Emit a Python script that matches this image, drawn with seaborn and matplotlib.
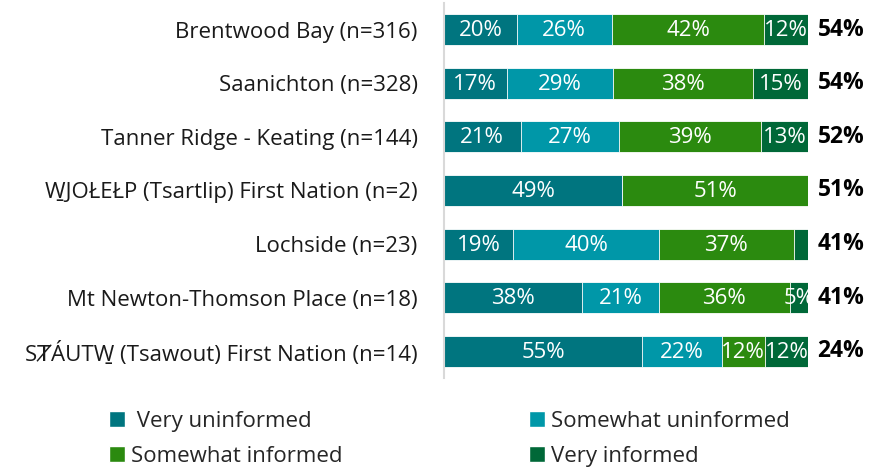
import numpy as np
import pandas as pd
import matplotlib
matplotlib.use("Agg")
import matplotlib.pyplot as plt
from matplotlib.patches import Patch
import seaborn as sns

# data
categories = [
    "Brentwood Bay (n=316)",
    "Saanichton (n=328)",
    "Tanner Ridge - Keating (n=144)",
    "W\u0331JOŁEŁP (Tsartlip) First Nation (n=2)",
    "Lochside (n=23)",
    "Mt Newton-Thomson Place (n=18)",
    "S\u023eÁUTW\u0331 (Tsawout) First Nation (n=14)",
]
very_uninformed = [20, 17, 21, 49, 19, 38, 55]
somewhat_uninformed = [26, 29, 27, 0, 40, 21, 22]
somewhat_informed = [42, 38, 39, 51, 37, 36, 12]
very_informed = [12, 15, 13, 0, 4, 5, 12]
totals = [54, 54, 52, 51, 41, 41, 24]

series_names = ["Very uninformed", "Somewhat uninformed", "Somewhat informed", "Very informed"]
colors = ["#00757f", "#0097a8", "#2b8a0f", "#006838"]

sns.set_theme(style="white")
plt.rcParams["font.family"] = ["Open Sans", "DejaVu Sans"]

df = pd.DataFrame({
    "category": categories,
    "Very uninformed": very_uninformed,
    "Somewhat uninformed": somewhat_uninformed,
    "Somewhat informed": somewhat_informed,
    "Very informed": very_informed,
})
vals = df[series_names].to_numpy(dtype=float)
shares = vals / vals.sum(axis=1, keepdims=True) * 100  # bars all run to full width
cum = shares.cumsum(axis=1)

fig = plt.figure(figsize=(8.69, 4.68), dpi=100)
ax = fig.add_axes([0.511, 0.192, 0.419, 0.802])

# stacked look: draw cumulative bars from the longest down
for i in range(3, -1, -1):
    sns.barplot(x=cum[:, i], y=df["category"], color=colors[i], orient="h",
                width=0.58, edgecolor="white", linewidth=0.6, saturation=1, ax=ax)

# segment labels
for r in range(len(categories)):
    for i in range(4):
        if vals[r, i] >= 5:
            mid = cum[r, i] - shares[r, i] / 2
            ax.text(mid, r + 0.02, f"{int(vals[r, i])}%", ha="center", va="center",
                    color="white", fontsize=16)
    ax.text(102.6, r, f"{totals[r]}%", ha="left", va="center",
            color="black", fontsize=16.5, fontweight="bold")

ax.set_xlim(0, 100)
ax.set_ylim(6.5, -0.5)
ax.set_xlabel("")
ax.set_ylabel("")
ax.set_xticks([])
ax.tick_params(axis="y", length=0, pad=19, labelsize=16, labelcolor="#1a1a1a")
for side in ["top", "right", "bottom"]:
    ax.spines[side].set_visible(False)
ax.spines["left"].set_color("#d9d9d9")
ax.spines["left"].set_linewidth(1.5)

handles = [Patch(facecolor=colors[0], label=" Very uninformed"),
           Patch(facecolor=colors[2], label="Somewhat informed"),
           Patch(facecolor=colors[1], label="Somewhat uninformed"),
           Patch(facecolor=colors[3], label="Very informed")]
fig.legend(handles=handles, ncol=2, loc="upper left", bbox_to_anchor=(0.125, 0.122),
           frameon=False, fontsize=16, handlelength=0.72, handleheight=0.72,
           handletextpad=0.28, columnspacing=8.4, labelspacing=0.62,
           borderpad=0, borderaxespad=0)

plt.savefig("out.png", dpi=100)
